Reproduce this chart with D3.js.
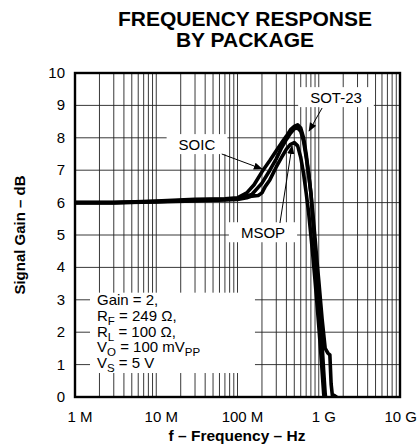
<!DOCTYPE html>
<html>
<head>
<meta charset="utf-8">
<title>Frequency Response by Package</title>
<script src="https://d3js.org/d3.v7.min.js"></script>
<style>
  body { margin: 0; background: #fff; }
  text { font-family: "Liberation Sans", Arial, Helvetica, sans-serif; fill: #000; }
</style>
</head>
<body>
<div id="chart"></div>
<script>
// frequencies in MHz, gain in dB
const freqSOIC = [1, 3, 10, 30, 70, 100, 130, 160, 200, 250, 300, 350, 400, 450, 500, 550, 600, 650, 700, 750, 800, 850, 900, 950, 1000, 1050, 1100, 1150, 1200, 1250];
const gainSOIC = [6.0, 6.0, 6.05, 6.1, 6.12, 6.15, 6.3, 6.55, 6.95, 7.3, 7.6, 7.85, 8.05, 8.25, 8.35, 8.4, 8.3, 8.0, 7.5, 6.9, 6.3, 5.4, 4.6, 3.8, 3.1, 2.4, 1.6, 0.8, 0.1, -0.3];

const freqMSOP = [1, 3, 10, 30, 70, 100, 130, 150, 180, 200, 220, 250, 300, 350, 400, 450, 500, 550, 600, 650, 700, 750, 800, 850, 900, 950, 1000, 1050, 1100, 1150, 1200];
const gainMSOP = [6.0, 6.0, 6.02, 6.05, 6.08, 6.1, 6.15, 6.2, 6.22, 6.3, 6.5, 6.7, 7.1, 7.4, 7.65, 7.8, 7.85, 7.75, 7.4, 6.9, 6.3, 5.7, 5.0, 4.3, 3.6, 2.9, 2.2, 1.5, 0.8, 0.1, -0.3];

const freqSOT = [1, 3, 10, 30, 70, 100, 150, 200, 250, 300, 350, 400, 450, 500, 550, 600, 650, 700, 750, 800, 850, 900, 950, 1000, 1100, 1200, 1300, 1370, 1420, 1470, 1550, 1650];
const gainSOT = [6.0, 6.0, 6.03, 6.08, 6.1, 6.12, 6.25, 6.6, 7.0, 7.35, 7.7, 7.95, 8.15, 8.28, 8.3, 8.2, 7.9, 7.4, 6.9, 6.3, 5.6, 4.9, 4.2, 3.6, 2.4, 1.5, 1.35, 1.3, 0.4, 0.05, 0.05, 0.0];

const xTicks = [1, 10, 100, 1000, 10000];
const xTickLabels = ["1 M", "10 M", "100 M", "1 G", "10 G"];
const yTicks = [0, 1, 2, 3, 4, 5, 6, 7, 8, 9, 10];

const labels = [
  { text: "SOIC",   f: 31.7, g: 7.62, from: [64, 7.5],   to: [200, 7.04] },
  { text: "SOT-23", f: 1630, g: 9.07, from: [1100, 8.92], to: [760, 8.21] },
  { text: "MSOP",   f: 206,  g: 4.9,  from: [333, 5.37], to: [469, 7.75] }
];

const conditions = [
  [["Gain = 2,", ""]],
  [["R", ""], ["F", "sub"], [" = 249 \u03A9,", ""]],
  [["R", ""], ["L", "sub"], [" = 100 \u03A9,", ""]],
  [["V", ""], ["O", "sub"], [" = 100 mV", ""], ["PP", "sub"]],
  [["V", ""], ["S", "sub"], [" = 5 V", ""]]
];

const W = 419, H = 448;
const mLeft = 75, mRight = 400, mTop = 73, mBottom = 397;

const svg = d3.select("#chart").append("svg")
  .attr("width", W).attr("height", H);

const x = d3.scaleLog().domain([1, 10000]).range([mLeft, mRight]);
const y = d3.scaleLinear().domain([0, 10]).range([mBottom, mTop]);

// title
svg.append("text").attr("x", 245).attr("y", 26).attr("text-anchor", "middle")
  .style("font-weight", "bold").style("font-size", "21px").text("FREQUENCY RESPONSE");
svg.append("text").attr("x", 245).attr("y", 47).attr("text-anchor", "middle")
  .style("font-weight", "bold").style("font-size", "21px").text("BY PACKAGE");

// grid
const minor = [];
for (let d = 1; d < 10000; d *= 10) for (let k = 2; k <= 9; k++) minor.push(d * k);
svg.append("g").selectAll("line").data(minor.concat(xTicks)).enter().append("line")
  .attr("x1", d => x(d)).attr("x2", d => x(d))
  .attr("y1", mTop).attr("y2", mBottom)
  .attr("stroke", "#222").attr("stroke-width", 0.9);
svg.append("g").selectAll("line").data(yTicks).enter().append("line")
  .attr("x1", mLeft).attr("x2", mRight)
  .attr("y1", d => y(d)).attr("y2", d => y(d))
  .attr("stroke", "#222").attr("stroke-width", 0.9);

// conditions box (white, covers grid)
const cb = { f0: 1.53, f1: 164, g0: 0.74, g1: 3.22 };
svg.append("rect").attr("x", x(cb.f0)).attr("y", y(cb.g1))
  .attr("width", x(cb.f1) - x(cb.f0)).attr("height", y(cb.g0) - y(cb.g1))
  .attr("fill", "#fff");

const ct = svg.append("g");
conditions.forEach((line, i) => {
  const t = ct.append("text").attr("x", 97).attr("y", 305 + i * 15.8).style("font-size", "15px");
  let sub = false;
  line.forEach(([s, kind]) => {
    const ts = t.append("tspan").text(s);
    if (kind === "sub" && !sub) { ts.attr("dy", 4).style("font-size", "11.5px"); sub = true; }
    else if (kind === "sub") { ts.style("font-size", "11.5px"); }
    else if (sub) { ts.attr("dy", -4); sub = false; }
  });
});

// curves
svg.append("defs").append("clipPath").attr("id", "clip")
  .append("rect").attr("x", mLeft).attr("y", mTop - 5).attr("width", mRight - mLeft).attr("height", mBottom - mTop + 5);

const line = d3.line().x(d => x(d[0])).y(d => y(d[1]));
const series = [[freqMSOP, gainMSOP], [freqSOT, gainSOT], [freqSOIC, gainSOIC]];
svg.append("g").attr("clip-path", "url(#clip)").selectAll("path").data(series).enter().append("path")
  .attr("d", s => line(s[0].map((f, i) => [f, s[1][i]])))
  .attr("fill", "none").attr("stroke", "#000").attr("stroke-width", 3.6)
  .attr("stroke-linejoin", "round").attr("stroke-linecap", "round");

// label boxes and leaders
svg.select("defs").append("marker").attr("id", "arr")
  .attr("viewBox", "0 0 10 10").attr("refX", 9).attr("refY", 5)
  .attr("markerWidth", 9).attr("markerHeight", 9).attr("markerUnits", "userSpaceOnUse")
  .attr("orient", "auto")
  .append("path").attr("d", "M0,1 L10,5 L0,9 Z").attr("fill", "#000");

labels.forEach(l => {
  const g = svg.append("g");
  const t = g.append("text").attr("x", x(l.f)).attr("y", y(l.g)).attr("text-anchor", "middle")
    .style("font-size", "15px").text(l.text);
  const bb = t.node().getBBox();
  g.insert("rect", "text").attr("x", bb.x - 12).attr("y", bb.y - 2)
    .attr("width", bb.width + 24).attr("height", bb.height + 3).attr("fill", "#fff");
  svg.append("line")
    .attr("x1", x(l.from[0])).attr("y1", y(l.from[1]))
    .attr("x2", x(l.to[0])).attr("y2", y(l.to[1]))
    .attr("stroke", "#000").attr("stroke-width", 1)
    .attr("marker-end", "url(#arr)");
});

// frame
svg.append("rect").attr("x", mLeft).attr("y", mTop)
  .attr("width", mRight - mLeft).attr("height", mBottom - mTop)
  .attr("fill", "none").attr("stroke", "#000").attr("stroke-width", 2.4);

// y tick labels
svg.append("g").selectAll("text").data(yTicks).enter().append("text")
  .attr("x", 65).attr("y", d => y(d) + 5).attr("text-anchor", "end")
  .style("font-size", "15px").text(d => d);

// x tick labels
svg.append("g").selectAll("text").data(xTicks).enter().append("text")
  .attr("x", (d, i) => i === xTicks.length - 1 ? W - 2 : x(d) + 5)
  .attr("y", 422)
  .attr("text-anchor", (d, i) => i === xTicks.length - 1 ? "end" : "middle")
  .style("font-size", "15px").text((d, i) => xTickLabels[i]);

// axis titles
svg.append("text").attr("x", 237).attr("y", 441).attr("text-anchor", "middle")
  .style("font-weight", "bold").style("font-size", "15.5px").text("f \u2013 Frequency \u2013 Hz");
svg.append("text").attr("transform", "translate(25," + ((mTop + mBottom) / 2) + ") rotate(-90)")
  .attr("text-anchor", "middle")
  .style("font-weight", "bold").style("font-size", "15px").text("Signal Gain \u2013 dB");
</script>
</body>
</html>
